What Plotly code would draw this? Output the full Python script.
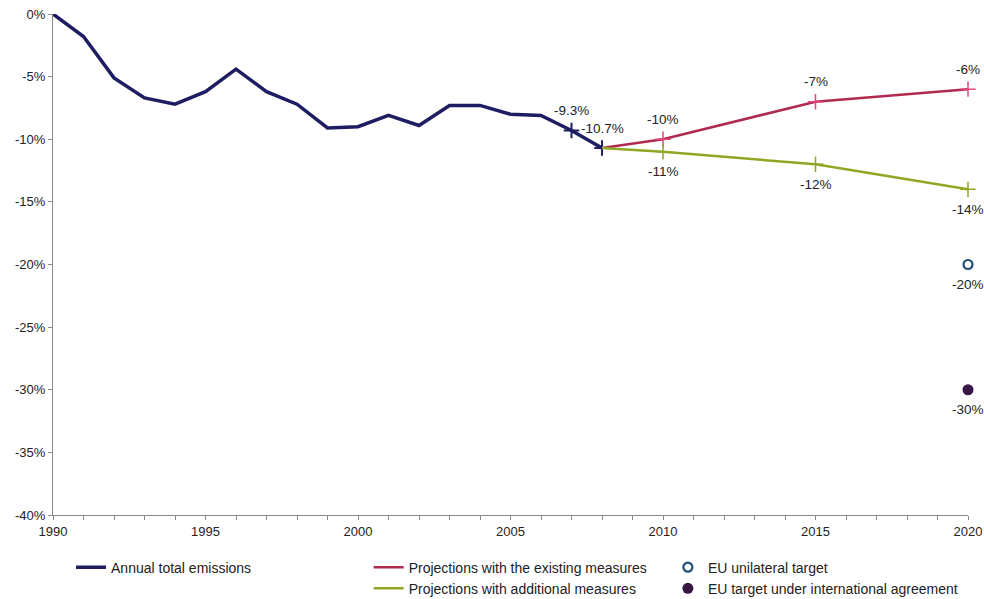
import plotly.graph_objects as go

# Annual total emissions, % change vs 1990
years = list(range(1990, 2009))
emissions = [0.0, -1.8, -5.1, -6.7, -7.2, -6.2, -4.4, -6.2, -7.2, -9.1,
             -9.0, -8.1, -8.9, -7.3, -7.3, -8.0, -8.1, -9.3, -10.7]

# Projections from 2008 onwards
proj_years = [2008, 2010, 2015, 2020]
proj_existing = [-10.7, -10.0, -7.0, -6.0]
proj_additional = [-10.7, -11.0, -12.0, -14.0]

# 2020 targets
target_year = [2020]
target_unilateral = [-20.0]
target_international = [-30.0]

y_ticks = [0, -5, -10, -15, -20, -25, -30, -35, -40]
y_tick_labels = ["0%", "-5%", "-10%", "-15%", "-20%", "-25%", "-30%", "-35%", "-40%"]
x_ticks = [1990, 1995, 2000, 2005, 2010, 2015, 2020]

NAVY = "#1d1d62"
RED = "#b02a50"
RED_MARK = "#e5467a"
GREEN = "#8fa823"
TEAL = "#1f4e79"
PURPLE = "#3a1644"
FONT = "Liberation Sans, Arial, sans-serif"

fig = go.Figure()

fig.add_trace(go.Scatter(
    x=years, y=emissions, mode="lines", name="Annual total emissions",
    line=dict(color=NAVY, width=3.5), legend="legend", cliponaxis=False))
fig.add_trace(go.Scatter(
    x=years[-2:], y=emissions[-2:], mode="markers", showlegend=False,
    marker=dict(symbol="cross-thin", size=11, line=dict(color=NAVY, width=2)),
    cliponaxis=False))

fig.add_trace(go.Scatter(
    x=proj_years, y=proj_existing, mode="lines",
    name="Projections with the existing measures",
    line=dict(color=RED, width=2.5), legend="legend2", cliponaxis=False))
fig.add_trace(go.Scatter(
    x=proj_years[1:], y=proj_existing[1:], mode="markers", showlegend=False,
    marker=dict(symbol="cross-thin", size=11, line=dict(color=RED_MARK, width=1.5)),
    cliponaxis=False))

fig.add_trace(go.Scatter(
    x=proj_years, y=proj_additional, mode="lines",
    name="Projections with additional measures",
    line=dict(color=GREEN, width=2.5), legend="legend2", cliponaxis=False))
fig.add_trace(go.Scatter(
    x=proj_years[1:], y=proj_additional[1:], mode="markers", showlegend=False,
    marker=dict(symbol="cross-thin", size=11, line=dict(color=GREEN, width=1.5)),
    cliponaxis=False))

fig.add_trace(go.Scatter(
    x=target_year, y=target_unilateral, mode="markers", name="EU unilateral target",
    marker=dict(symbol="circle-open", size=9, color=TEAL, line=dict(color=TEAL, width=2.2)),
    legend="legend3", cliponaxis=False))
fig.add_trace(go.Scatter(
    x=target_year, y=target_international, mode="markers",
    name="EU target under international agreement",
    marker=dict(symbol="circle", size=11, color=PURPLE),
    legend="legend3", cliponaxis=False))


def pct(v, digits=0):
    return f"{v:.{digits}f}%"


annotations = []


def label(x, y, text, above):
    annotations.append(dict(
        x=x, y=y, xref="x", yref="y", text=text, showarrow=False,
        yshift=20 if above else -20,
        font=dict(family=FONT, size=13.5, color="#222222")))


# labelled historic points
for yr, v in zip(years[-2:], emissions[-2:]):
    label(yr, v, pct(v, 1), True)
# projection labels
for yr, v in zip(proj_years[1:], proj_existing[1:]):
    label(yr, v, pct(v), True)
for yr, v in zip(proj_years[1:], proj_additional[1:]):
    label(yr, v, pct(v), False)
label(target_year[0], target_unilateral[0], pct(target_unilateral[0]), False)
label(target_year[0], target_international[0], pct(target_international[0]), False)

legend_common = dict(
    orientation="v", xanchor="left", yanchor="top", bgcolor="rgba(0,0,0,0)",
    font=dict(family=FONT, size=14, color="#222222"), tracegroupgap=0,
    itemwidth=30)

fig.update_layout(
    width=984, height=599, autosize=False,
    margin=dict(l=53, r=16, t=14, b=84, autoexpand=False),
    paper_bgcolor="white", plot_bgcolor="white",
    font=dict(family=FONT, size=13, color="#222222"),
    annotations=annotations,
    legend=dict(x=0.0197, y=-0.073, **legend_common),
    legend2=dict(x=0.345, y=-0.073, **legend_common),
    legend3=dict(x=0.672, y=-0.073, **legend_common),
    xaxis=dict(
        range=[1990, 2020], tickmode="array", tickvals=x_ticks,
        ticktext=[str(t) for t in x_ticks],
        showgrid=False, zeroline=False, showline=True,
        linecolor="#8a8a8a", linewidth=1,
        ticks="outside", ticklen=4, tickcolor="#8a8a8a",
        minor=dict(dtick=1, tick0=1990, ticks="outside", ticklen=4,
                   tickcolor="#8a8a8a", showgrid=False),
        tickfont=dict(family=FONT, size=13, color="#222222")),
    yaxis=dict(
        range=[-40, 0], tickmode="array", tickvals=y_ticks,
        ticktext=y_tick_labels,
        showgrid=False, zeroline=False, showline=True,
        linecolor="#8a8a8a", linewidth=1,
        ticks="outside", ticklen=4, tickcolor="#8a8a8a",
        tickfont=dict(family=FONT, size=13, color="#222222")),
)

fig.write_html("out.html")
